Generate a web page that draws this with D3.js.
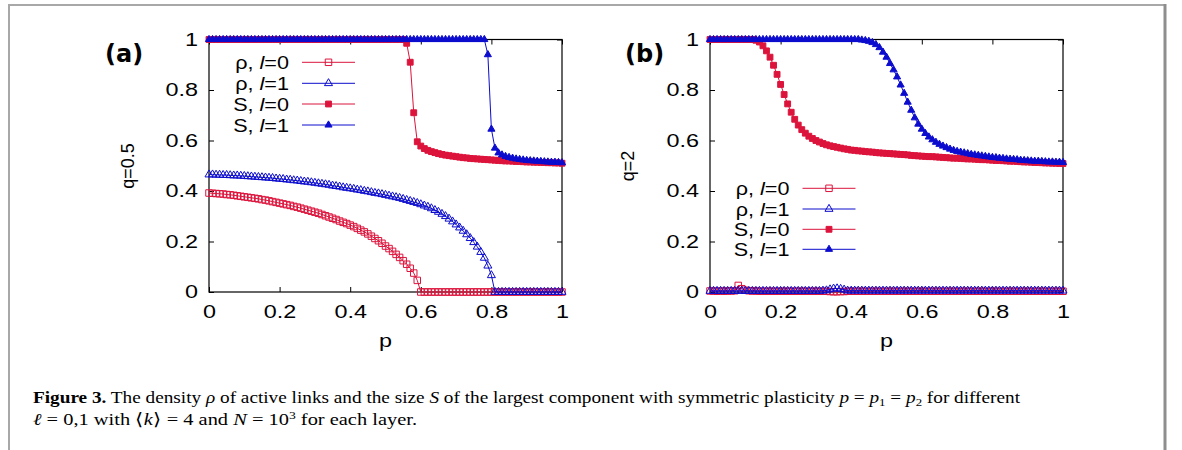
<!DOCTYPE html>
<html>
<head>
<meta charset="utf-8">
<script src="https://cdn.jsdelivr.net/npm/d3@7"></script>
<style>
  body { margin: 0; background: #fff; }
  svg { display: block; }
</style>
</head>
<body>
<svg id="fig" width="1182" height="450"></svg>
<script>
// plasticity grid
const P = [0,0.01,0.02,0.03,0.04,0.05,0.06,0.07,0.08,0.09,
  0.1,0.11,0.12,0.13,0.14,0.15,0.16,0.17,0.18,0.19,
  0.2,0.21,0.22,0.23,0.24,0.25,0.26,0.27,0.28,0.29,
  0.3,0.31,0.32,0.33,0.34,0.35,0.36,0.37,0.38,0.39,
  0.4,0.41,0.42,0.43,0.44,0.45,0.46,0.47,0.48,0.49,
  0.5,0.51,0.52,0.53,0.54,0.55,0.56,0.57,0.58,0.59,
  0.6,0.61,0.62,0.63,0.64,0.65,0.66,0.67,0.68,0.69,
  0.7,0.71,0.72,0.73,0.74,0.75,0.76,0.77,0.78,0.79,
  0.8,0.81,0.82,0.83,0.84,0.85,0.86,0.87,0.88,0.89,
  0.9,0.91,0.92,0.93,0.94,0.95,0.96,0.97,0.98,0.99,1];

const ticks = [0, 0.2, 0.4, 0.6, 0.8, 1];

// (a) q = 0.5
const rhoA0 = [0.392,0.391,0.390,0.389,0.388,0.386,0.385,0.383,0.381,0.379,
  0.377,0.375,0.373,0.371,0.369,0.366,0.364,0.361,0.358,0.355,
  0.352,0.349,0.346,0.343,0.339,0.336,0.332,0.328,0.324,0.320,
  0.316,0.312,0.307,0.302,0.297,0.292,0.287,0.281,0.276,0.271,
  0.265,0.259,0.252,0.245,0.238,0.230,0.221,0.212,0.203,0.193,
  0.182,0.172,0.161,0.149,0.137,0.124,0.110,0.094,0.075,0.046,
  0,0,0,0,0,0,0,0,0,0,
  0,0,0,0,0,0,0,0,0,0,
  0,0,0,0,0,0,0,0,0,0,
  0,0,0,0,0,0,0,0,0,0,0];
const rhoA1 = [0.465,0.465,0.464,0.464,0.463,0.463,0.462,0.461,0.461,0.460,
  0.459,0.458,0.457,0.456,0.455,0.454,0.453,0.452,0.451,0.449,
  0.448,0.447,0.445,0.444,0.442,0.441,0.439,0.437,0.436,0.434,
  0.432,0.430,0.428,0.426,0.424,0.421,0.419,0.417,0.414,0.412,
  0.410,0.408,0.405,0.403,0.400,0.398,0.395,0.392,0.390,0.387,
  0.384,0.381,0.378,0.375,0.372,0.368,0.364,0.360,0.356,0.352,
  0.347,0.342,0.337,0.331,0.324,0.317,0.309,0.300,0.290,0.279,
  0.267,0.255,0.242,0.228,0.213,0.197,0.179,0.158,0.135,0.104,
  0.066,0,0,0,0,0,0,0,0,0,
  0,0,0,0,0,0,0,0,0,0,0];
const sA0 = [1,1,1,1,1,1,1,1,1,1,
  1,1,1,1,1,1,1,1,1,1,
  1,1,1,1,1,1,1,1,1,1,
  1,1,1,1,1,1,1,1,1,1,
  1,1,1,1,1,1,1,1,1,1,
  1,1,1,1,1,1,0.985,0.91,0.71,0.595,
  0.578,0.568,0.561,0.556,0.552,0.548,0.545,0.542,0.540,0.538,
  0.536,0.534,0.532,0.531,0.529,0.528,0.527,0.526,0.525,0.524,
  0.523,0.522,0.521,0.520,0.519,0.519,0.518,0.517,0.517,0.516,
  0.515,0.515,0.514,0.514,0.513,0.513,0.512,0.512,0.511,0.511,0.510];
const sA1 = [1,1,1,1,1,1,1,1,1,1,
  1,1,1,1,1,1,1,1,1,1,
  1,1,1,1,1,1,1,1,1,1,
  1,1,1,1,1,1,1,1,1,1,
  1,1,1,1,1,1,1,1,1,1,
  1,1,1,1,1,1,1,1,1,1,
  1,1,1,1,1,1,1,1,1,1,
  1,1,1,1,1,1,1,1,1,0.94,
  0.645,0.57,0.551,0.543,0.537,0.533,0.530,0.527,0.525,0.523,
  0.521,0.520,0.519,0.518,0.517,0.516,0.515,0.514,0.514,0.513,0.512];

// (b) q = 2
const rhoB0 = [0.004,0.004,0.003,0.004,0.003,0.004,0.004,0.005,0.026,0.013,
  0.007,0.005,0.004,0.004,0.003,0.003,0.003,0.003,0.003,0.003,
  0.003,0.003,0.003,0.003,0.003,0.003,0.003,0.003,0.003,0.003,
  0.003,0.003,0.003,0.003,0.002,0.001,0.001,0.002,0.002,0.003,
  0.003,0.003,0.003,0.003,0.003,0.003,0.003,0.003,0.003,0.003,
  0.003,0.003,0.003,0.003,0.003,0.003,0.003,0.003,0.003,0.003,
  0.003,0.003,0.003,0.003,0.003,0.003,0.003,0.003,0.003,0.003,
  0.003,0.003,0.003,0.003,0.003,0.003,0.003,0.003,0.003,0.003,
  0.003,0.003,0.003,0.003,0.003,0.003,0.003,0.003,0.003,0.003,
  0.003,0.003,0.003,0.003,0.003,0.003,0.003,0.003,0.003,0.003,0.003];
const rhoB1 = [0.004,0.004,0.004,0.004,0.004,0.004,0.004,0.004,0.004,0.005,
  0.004,0.004,0.004,0.004,0.004,0.004,0.004,0.004,0.004,0.004,
  0.004,0.004,0.004,0.004,0.004,0.004,0.004,0.004,0.004,0.004,
  0.004,0.004,0.005,0.006,0.010,0.013,0.014,0.012,0.009,0.005,
  0.005,0.005,0.005,0.005,0.005,0.005,0.005,0.005,0.005,0.005,
  0.005,0.005,0.005,0.005,0.005,0.005,0.005,0.005,0.005,0.005,
  0.005,0.005,0.005,0.005,0.005,0.005,0.005,0.005,0.005,0.005,
  0.005,0.005,0.005,0.005,0.005,0.005,0.005,0.005,0.005,0.005,
  0.005,0.005,0.005,0.005,0.005,0.005,0.005,0.005,0.005,0.005,
  0.005,0.005,0.005,0.005,0.005,0.005,0.005,0.005,0.005,0.005,0.005];
const sB0 = [1,1,1,1,1,1,1,1,1,1,
  1,1,1,0.997,0.99,0.975,0.955,0.93,0.898,0.862,
  0.822,0.782,0.745,0.712,0.684,0.661,0.643,0.629,0.617,0.608,
  0.600,0.594,0.588,0.583,0.579,0.576,0.573,0.570,0.567,0.565,
  0.562,0.561,0.559,0.558,0.556,0.555,0.554,0.552,0.551,0.550,
  0.549,0.548,0.547,0.546,0.545,0.544,0.543,0.541,0.540,0.539,
  0.538,0.537,0.536,0.536,0.535,0.534,0.533,0.532,0.531,0.530,
  0.530,0.529,0.528,0.527,0.527,0.526,0.525,0.524,0.524,0.523,
  0.522,0.521,0.521,0.520,0.519,0.518,0.518,0.517,0.516,0.515,
  0.515,0.514,0.513,0.513,0.512,0.511,0.511,0.510,0.510,0.509,0.509];
const sB1 = [1,1,1,1,1,1,1,1,1,1,
  1,1,1,1,1,1,1,1,1,1,
  1,1,1,1,1,1,1,1,1,1,
  1,1,1,1,1,1,1,1,1,1,
  1,1,1,0.998,0.996,0.993,0.988,0.980,0.968,0.950,
  0.930,0.905,0.880,0.852,0.820,0.787,0.752,0.720,0.690,0.665,
  0.645,0.628,0.614,0.603,0.593,0.585,0.578,0.572,0.566,0.561,
  0.557,0.554,0.551,0.548,0.545,0.543,0.541,0.539,0.537,0.535,
  0.533,0.532,0.530,0.529,0.527,0.526,0.525,0.524,0.522,0.521,
  0.520,0.519,0.518,0.518,0.517,0.516,0.515,0.515,0.514,0.514,0.513];

const legendVar = ["ρ", "ρ", "S", "S"];
const legendL = ["0", "1", "0", "1"];

const RED = "#dc143c", BLUE = "#0c0cce";
const SANS = "'Liberation Sans', Arial, sans-serif";
const SX = 1.3; // wide glyphs of the plot lettering

const svg = d3.select("#fig");
svg.append("rect").attr("width", 1182).attr("height", 450).attr("fill", "#fff");

// page frame
svg.append("path").attr("d", "M9,450V5H1165").attr("fill", "none")
  .attr("stroke", "#a8a8a8").attr("stroke-width", 2);
svg.append("path").attr("d", "M1165,4V450").attr("fill", "none")
  .attr("stroke", "#8e8e8e").attr("stroke-width", 3);

// marker styles: open square, open triangle, filled square, filled triangle
const markers = [
  {type: d3.symbolSquare, size: 42, fill: "none", color: RED},
  {type: d3.symbolTriangle, size: 28, fill: "none", color: BLUE},
  {type: d3.symbolSquare, size: 34, fill: RED, color: RED},
  {type: d3.symbolTriangle, size: 22, fill: BLUE, color: BLUE}
];

function panel(o) {
  const x = d3.scaleLinear().domain([0, 1]).range([o.x0, o.x1]);
  const y = d3.scaleLinear().domain([0, 1]).range([292, 39.5]);
  const g = svg.append("g");

  const styleAxis = a => {
    a.attr("font-size", 18).attr("font-family", SANS);
    a.select(".domain").remove();
    a.selectAll("line").attr("stroke", "#000");
    a.selectAll("text").attr("fill", "#000");
  };

  g.append("g").attr("transform", `translate(0,${y(0)})`)
    .call(d3.axisBottom(x).tickValues(ticks).tickSize(-5).tickPadding(13).tickFormat(d => d))
    .call(styleAxis)
    .selectAll("text").attr("transform", `scale(${SX},1)`);
  g.append("g").attr("transform", `translate(0,${y(1)})`)
    .call(d3.axisTop(x).tickValues(ticks).tickSize(-5).tickFormat(""))
    .call(styleAxis);
  g.append("g").attr("transform", `translate(${o.x0},0)`)
    .call(d3.axisLeft(y).tickValues(ticks).tickSize(-5).tickPadding(11).tickFormat(d => d))
    .call(styleAxis)
    .selectAll("text").attr("x", -11 / SX).attr("transform", `scale(${SX},1)`);
  g.append("g").attr("transform", `translate(${o.x1},0)`)
    .call(d3.axisRight(y).tickValues(ticks).tickSize(-5).tickFormat(""))
    .call(styleAxis);

  g.append("rect").attr("x", x(0)).attr("y", y(1))
    .attr("width", x(1) - x(0)).attr("height", y(0) - y(1))
    .attr("fill", "none").attr("stroke", "#000").attr("stroke-width", 1.2);

  const line = d3.line().x((d, j) => x(P[j])).y(d => y(d));

  o.series.forEach((s, i) => {
    const m = markers[i];
    const sg = g.append("g");
    sg.append("path").datum(s).attr("d", line)
      .attr("fill", "none").attr("stroke", m.color).attr("stroke-width", 1);
    sg.selectAll("path.pt").data(s).join("path").attr("class", "pt")
      .attr("transform", (d, j) => `translate(${x(P[j])},${y(d)})`)
      .attr("d", d3.symbol(m.type, m.size))
      .attr("fill", m.fill).attr("stroke", m.color).attr("stroke-width", 1);
  });

  // legend
  o.legRows.forEach((ry, i) => {
    const m = markers[i];
    const t = g.append("text")
      .attr("transform", `translate(${o.legX},${ry + 6.5}) scale(1.2,1)`)
      .attr("text-anchor", "end").attr("font-size", 18).attr("font-family", SANS);
    t.append("tspan").text(legendVar[i] + ", ");
    t.append("tspan").attr("font-style", "italic").text("l");
    t.append("tspan").text("=" + legendL[i]);
    g.append("line").attr("x1", o.legX + 13).attr("x2", o.legX + 66)
      .attr("y1", ry).attr("y2", ry).attr("stroke", m.color).attr("stroke-width", 1);
    g.append("path").attr("transform", `translate(${o.legX + 39.5},${ry})`)
      .attr("d", d3.symbol(m.type, m.size))
      .attr("fill", m.fill).attr("stroke", m.color).attr("stroke-width", 1);
  });

  // panel tag and axis titles
  g.append("text").attr("x", o.tagX).attr("y", 62)
    .attr("font-family", "'DejaVu Sans', sans-serif").attr("font-weight", "bold")
    .attr("font-size", 24).text(o.tag);
  g.append("text").attr("transform", `translate(${o.qX},166) rotate(-90)`)
    .attr("text-anchor", "middle").attr("font-size", 18).attr("font-family", SANS)
    .text(o.q);
  g.append("text").attr("transform", `translate(${x(0.5)},347) scale(${SX},1)`)
    .attr("text-anchor", "middle").attr("font-size", 18).attr("font-family", SANS)
    .text("p");
}

panel({x0: 209, x1: 562, series: [rhoA0, rhoA1, sA0, sA1], tag: "(a)", tagX: 105,
  q: "q=0.5", qX: 133.5, legX: 289, legRows: [62.3, 83.3, 104, 125]});
panel({x0: 710, x1: 1063, series: [rhoB0, rhoB1, sB0, sB1], tag: "(b)", tagX: 625,
  q: "q=2", qX: 633.5, legX: 789.5, legRows: [188.3, 209, 229.3, 249.3]});

// caption
const SERIF = "'Liberation Serif', 'Times New Roman', serif";
const c1 = svg.append("text").attr("x", 33).attr("y", 403)
  .attr("font-family", SERIF).attr("font-size", 16.5)
  .attr("textLength", 987).attr("lengthAdjust", "spacingAndGlyphs");
c1.append("tspan").attr("font-weight", "bold").text("Figure 3.");
c1.append("tspan").text(" The density ");
c1.append("tspan").attr("font-style", "italic").text("ρ");
c1.append("tspan").text(" of active links and the size ");
c1.append("tspan").attr("font-style", "italic").text("S");
c1.append("tspan").text(" of the largest component with symmetric plasticity ");
c1.append("tspan").attr("font-style", "italic").text("p");
c1.append("tspan").text(" = ");
c1.append("tspan").attr("font-style", "italic").text("p");
c1.append("tspan").attr("font-size", 11).attr("dy", 3).text("1");
c1.append("tspan").attr("dy", -3).text(" = ");
c1.append("tspan").attr("font-style", "italic").text("p");
c1.append("tspan").attr("font-size", 11).attr("dy", 3).text("2");
c1.append("tspan").attr("dy", -3).text(" for different");

const c2 = svg.append("text").attr("x", 33).attr("y", 425)
  .attr("font-family", SERIF).attr("font-size", 16.5)
  .attr("textLength", 384).attr("lengthAdjust", "spacingAndGlyphs");
c2.append("tspan").attr("font-style", "italic").text("ℓ");
c2.append("tspan").text(" = 0,1 with ⟨");
c2.append("tspan").attr("font-style", "italic").text("k");
c2.append("tspan").text("⟩ = 4 and ");
c2.append("tspan").attr("font-style", "italic").text("N");
c2.append("tspan").text(" = 10");
c2.append("tspan").attr("font-size", 11).attr("dy", -6).text("3");
c2.append("tspan").attr("dy", 6).text(" for each layer.");
</script>
</body>
</html>
